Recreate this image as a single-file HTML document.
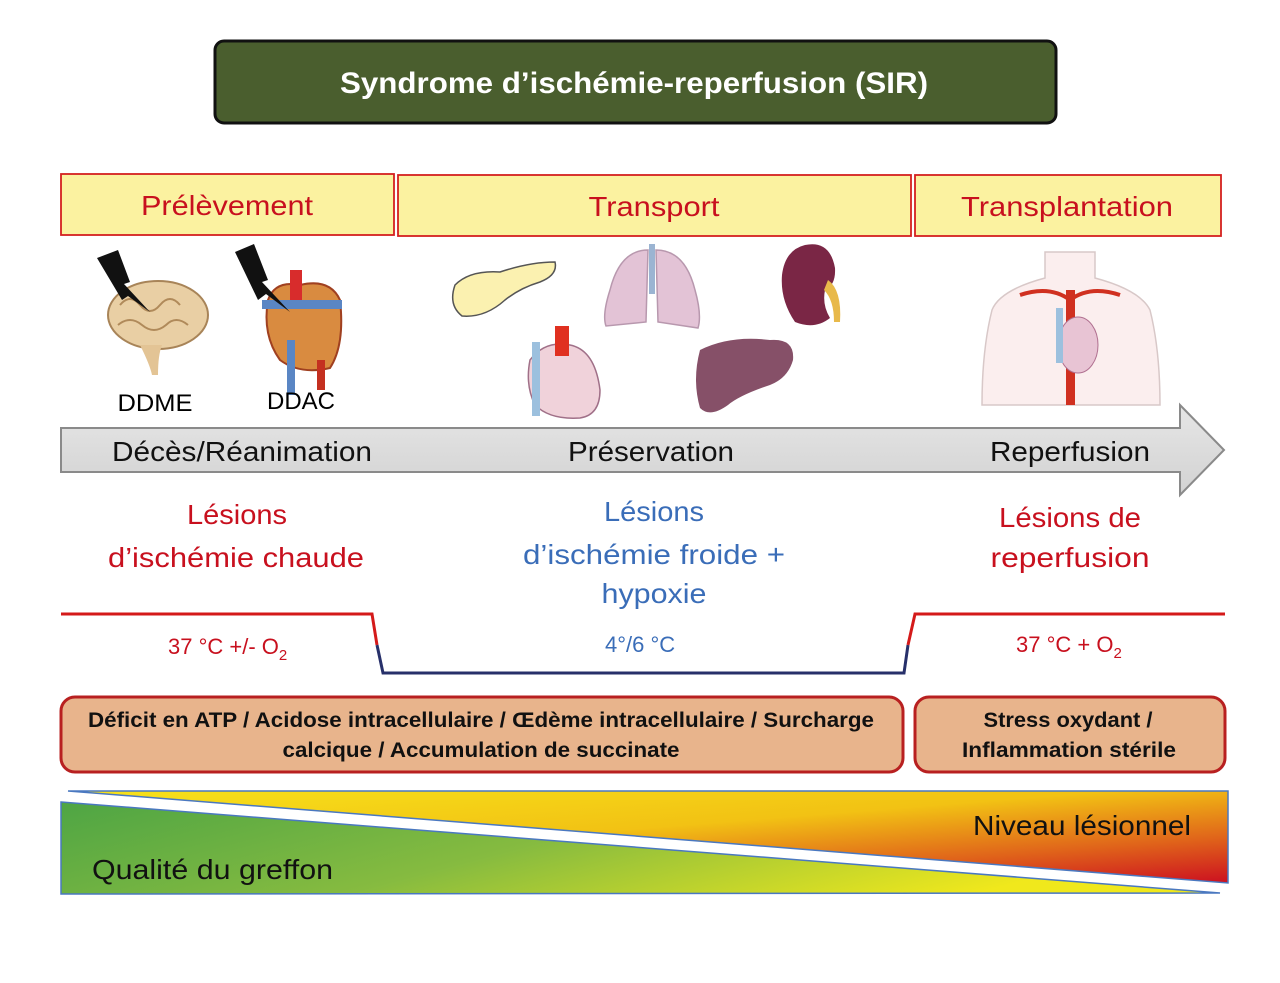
<!DOCTYPE html>
<html><head><meta charset="utf-8"><style>
html,body{margin:0;padding:0;background:#fff;}
svg{display:block;font-family:"Liberation Sans",sans-serif;}
</style></head><body>
<svg width="1280" height="983" viewBox="0 0 1280 983" xmlns="http://www.w3.org/2000/svg">
<defs>
<linearGradient id="gO" x1="0" y1="0" x2="1" y2="1" gradientUnits="objectBoundingBox">
<stop offset="0" stop-color="#f7e21a"/><stop offset="0.45" stop-color="#f2c214"/><stop offset="0.75" stop-color="#e0641a"/><stop offset="1" stop-color="#cc1020"/></linearGradient>
<linearGradient id="gG" x1="0" y1="0" x2="1" y2="0.3">
<stop offset="0" stop-color="#4ea544"/><stop offset="0.5" stop-color="#86bb40"/><stop offset="1" stop-color="#f0e81c"/></linearGradient>
<linearGradient id="gA" x1="0" y1="0" x2="0" y2="1"><stop offset="0" stop-color="#e6e6e6"/><stop offset="1" stop-color="#d2d2d2"/></linearGradient>
</defs>

<!-- Title -->
<rect x="215" y="41" width="841" height="82" rx="9" fill="#4a5e2e" stroke="#111" stroke-width="3"/>
<text x="634" y="93" text-anchor="middle" font-size="30" font-weight="bold" fill="#fff" textLength="588" lengthAdjust="spacingAndGlyphs">Syndrome d’ischémie-reperfusion (SIR)</text>

<!-- headers -->
<g fill="#fbf2a0" stroke="#d42020" stroke-width="1.8">
<rect x="61" y="174" width="333" height="61"/>
<rect x="398" y="175" width="513" height="61"/>
<rect x="915" y="175" width="306" height="61"/>
</g>
<g fill="#c8101e" font-size="28" text-anchor="middle">
<text x="227" y="215" textLength="172" lengthAdjust="spacingAndGlyphs">Prélèvement</text>
<text x="654" y="216" textLength="131" lengthAdjust="spacingAndGlyphs">Transport</text>
<text x="1067" y="216" textLength="212" lengthAdjust="spacingAndGlyphs">Transplantation</text>
</g>

<!-- organs -->
<!-- brain -->
<ellipse cx="158" cy="315" rx="50" ry="34" fill="#e9cfa4" stroke="#a88458" stroke-width="2"/>
<path d="M140 345 Q150 365 152 375 L158 375 Q158 355 162 345Z" fill="#e3c495"/>
<path d="M120 305 q10 -12 20 0 q10 12 20 0 q10 -12 20 0 M118 325 q12 -10 24 0 q12 10 24 0 q10 -10 22 0" fill="none" stroke="#b08a5a" stroke-width="2"/>
<polygon points="97,258 118,250 130,282 124,284 150,312 128,296 122,300" fill="#111"/>
<!-- heart DDAC -->
<path d="M268 300 Q275 280 300 285 Q330 278 340 300 Q345 345 330 368 Q300 375 280 360 Q262 335 268 300Z" fill="#d98b40" stroke="#a04020" stroke-width="2"/>
<rect x="290" y="270" width="12" height="30" fill="#d82c2c"/><rect x="262" y="300" width="80" height="9" fill="#5a86c4"/>
<rect x="287" y="340" width="8" height="55" fill="#5a86c4"/><rect x="317" y="360" width="8" height="30" fill="#c43020"/>
<polygon points="235,252 254,244 268,280 262,282 290,312 266,294 258,300" fill="#111"/>
<text x="155" y="411" text-anchor="middle" font-size="24" textLength="75" lengthAdjust="spacingAndGlyphs">DDME</text>
<text x="301" y="409" text-anchor="middle" font-size="24" textLength="68" lengthAdjust="spacingAndGlyphs">DDAC</text>
<!-- pancreas -->
<path d="M455 285 Q470 270 500 272 Q530 262 555 262 Q558 275 540 282 Q520 288 505 300 Q485 318 462 316 Q448 305 455 285Z" fill="#fbf1b0" stroke="#555" stroke-width="1.5"/>
<!-- lungs -->
<path d="M648 250 Q620 250 610 290 Q602 315 606 326 L646 322 Z" fill="#e3c3d6" stroke="#b898ae" stroke-width="1.5"/>
<path d="M656 250 Q685 250 695 290 Q702 315 698 328 L658 322 Z" fill="#e3c3d6" stroke="#b898ae" stroke-width="1.5"/>
<rect x="649" y="244" width="6" height="50" fill="#9bb4d2"/>
<!-- kidney -->
<path d="M805 245 Q830 240 835 268 Q836 285 825 290 Q822 305 830 318 Q815 330 795 322 Q780 300 782 275 Q785 250 805 245Z" fill="#7a2645"/>
<path d="M828 280 Q842 290 840 322 L834 322 Q834 300 824 290Z" fill="#e8b94a"/>
<!-- heart transport -->
<path d="M530 360 Q545 340 570 345 Q595 350 600 390 Q600 415 580 418 Q550 420 535 405 Q525 385 530 360Z" fill="#f0d2da" stroke="#a07088" stroke-width="1.5"/>
<rect x="555" y="326" width="14" height="30" fill="#e03020"/><rect x="532" y="342" width="8" height="74" fill="#9cc0de"/>
<!-- liver -->
<path d="M700 350 Q730 335 770 340 Q795 338 793 360 Q788 378 770 385 Q740 395 728 405 Q710 418 700 408 Q692 380 700 350Z" fill="#865068"/>
<!-- torso -->
<path d="M1045 252 L1045 278 Q1000 290 992 310 Q982 350 982 405 L1160 405 Q1160 350 1150 310 Q1140 290 1095 278 L1095 252 Z" fill="#fbeeee" stroke="#d8c8c8" stroke-width="1.5"/>
<path d="M1020 295 Q1050 285 1070 300 Q1090 285 1120 295" fill="none" stroke="#d03020" stroke-width="4"/>
<rect x="1066" y="290" width="9" height="115" fill="#d03020"/>
<ellipse cx="1078" cy="345" rx="20" ry="28" fill="#e8c4d4" stroke="#b07090"/>
<rect x="1056" y="308" width="7" height="55" fill="#9cc0de"/>

<!-- arrow -->
<path d="M61 428 L1180 428 L1180 405 L1224 450 L1180 495 L1180 472 L61 472 Z" fill="url(#gA)" stroke="#8a8a8a" stroke-width="2"/>
<g font-size="28" text-anchor="middle" fill="#111">
<text x="242" y="461" textLength="260" lengthAdjust="spacingAndGlyphs">Décès/Réanimation</text>
<text x="651" y="461" textLength="166" lengthAdjust="spacingAndGlyphs">Préservation</text>
<text x="1070" y="461" textLength="160" lengthAdjust="spacingAndGlyphs">Reperfusion</text>
</g>

<!-- lesions -->
<g font-size="28" text-anchor="middle" fill="#c8101e">
<text x="237" y="524" textLength="100" lengthAdjust="spacingAndGlyphs">Lésions</text>
<text x="236" y="567" textLength="256" lengthAdjust="spacingAndGlyphs">d’ischémie chaude</text>
<text x="1070" y="527" textLength="142" lengthAdjust="spacingAndGlyphs">Lésions de</text>
<text x="1070" y="567" textLength="159" lengthAdjust="spacingAndGlyphs">reperfusion</text>
</g>
<g font-size="28" text-anchor="middle" fill="#3a6db8">
<text x="654" y="521" textLength="100" lengthAdjust="spacingAndGlyphs">Lésions</text>
<text x="654" y="564" textLength="262" lengthAdjust="spacingAndGlyphs">d’ischémie froide +</text>
<text x="654" y="603" textLength="105" lengthAdjust="spacingAndGlyphs">hypoxie</text>
</g>

<!-- temperature line -->
<g fill="none" stroke-width="3">
<path d="M61 614 L372 614 L377 645" stroke="#d41a1a"/>
<path d="M377 645 L383 673 L904 673 L908 645" stroke="#27306a"/>
<path d="M908 645 L915 614 L1225 614" stroke="#d41a1a"/>
</g>
<text x="168" y="654" font-size="22" fill="#c8101e">37 °C +/- O<tspan font-size="15" dy="6">2</tspan></text>
<text x="605" y="652" font-size="22" fill="#3a6db8">4°/6 °C</text>
<text x="1016" y="652" font-size="22" fill="#c8101e">37 °C + O<tspan font-size="15" dy="6">2</tspan></text>

<!-- process boxes -->
<rect x="61" y="697" width="842" height="75" rx="14" fill="#e8b48c" stroke="#b82020" stroke-width="3"/>
<rect x="915" y="697" width="310" height="75" rx="14" fill="#e8b48c" stroke="#b82020" stroke-width="3"/>
<g font-size="21" font-weight="bold" text-anchor="middle" fill="#111">
<text x="481" y="727" textLength="786" lengthAdjust="spacingAndGlyphs">Déficit en ATP / Acidose intracellulaire / Œdème intracellulaire / Surcharge</text>
<text x="481" y="757" textLength="397" lengthAdjust="spacingAndGlyphs">calcique  / Accumulation de succinate</text>
<text x="1068" y="727" textLength="169" lengthAdjust="spacingAndGlyphs">Stress oxydant /</text>
<text x="1069" y="757" textLength="214" lengthAdjust="spacingAndGlyphs">Inflammation stérile</text>
</g>

<!-- bottom wedges -->
<polygon points="68,791 1228,791 1228,883" fill="url(#gO)" stroke="#4a78c0" stroke-width="1.5"/>
<polygon points="61,802 1220,893 61,894" fill="url(#gG)" stroke="#4a78c0" stroke-width="1.5"/>
<text x="973" y="835" font-size="28" fill="#111" textLength="218" lengthAdjust="spacingAndGlyphs">Niveau lésionnel</text>
<text x="92" y="879" font-size="28" fill="#111" textLength="241" lengthAdjust="spacingAndGlyphs">Qualité du greffon</text>
</svg>
</body></html>
